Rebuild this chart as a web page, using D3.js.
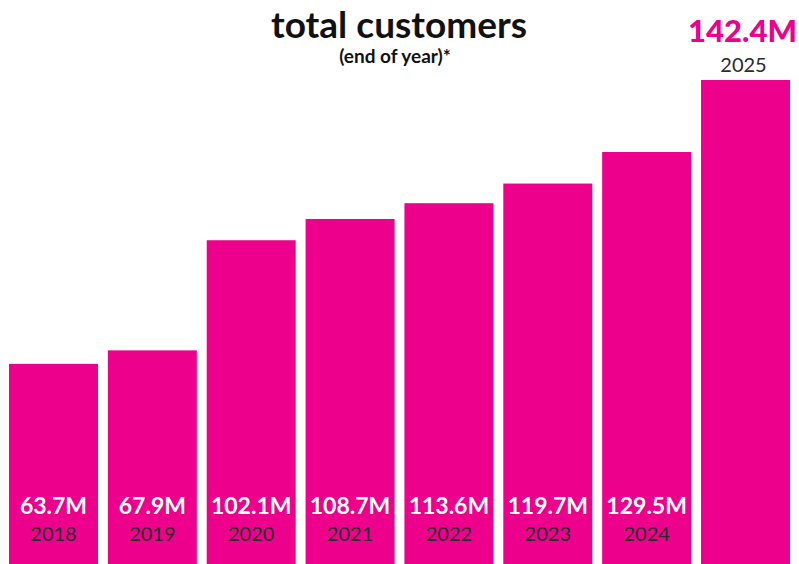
<!DOCTYPE html>
<html>
<head>
<meta charset="utf-8">
<script src="https://cdn.jsdelivr.net/npm/d3@7"></script>
<style>
  body { margin: 0; background: #fff; }
  svg { display: block; }
</style>
</head>
<body>
<div id="chart"></div>
<script>
var years = ["2018", "2019", "2020", "2021", "2022", "2023", "2024", "2025"];
var customers = [63.7, 67.9, 102.1, 108.7, 113.6, 119.7, 129.5, 142.4];
var valueLabels = ["63.7M", "67.9M", "102.1M", "108.7M", "113.6M", "119.7M", "129.5M", "142.4M"];

var width = 799, height = 564;
var magenta = "#ec008c";
var last = years.length - 1;

var svg = d3.select("#chart").append("svg")
    .attr("width", width)
    .attr("height", height);

var x = d3.scaleBand().domain(years).range([9, 790]).paddingInner(0.1).paddingOuter(0);

// the source stretches the final (2025) bar beyond the linear scale of the others
var y = d3.scaleLinear()
    .domain([0, customers[last - 1], customers[last]])
    .range([569, 152, 80]);

var data = years.map((yr, i) => ({ year: yr, value: customers[i], label: valueLabels[i], i: i }));

svg.selectAll("rect.bar").data(data).enter().append("rect")
    .attr("class", "bar")
    .attr("x", (d) => x(d.year))
    .attr("y", (d) => y(d.value))
    .attr("width", x.bandwidth())
    .attr("height", (d) => y(0) - y(d.value))
    .attr("fill", magenta);

var inside = data.filter((d) => d.i < last);
var outside = data.filter((d) => d.i === last);

svg.selectAll("text.val").data(inside).enter().append("text")
    .attr("class", "val")
    .attr("x", (d) => x(d.year) + x.bandwidth() / 2)
    .attr("y", 514)
    .attr("text-anchor", "middle")
    .style("font-family", "Lato, sans-serif")
    .style("font-weight", "700")
    .style("font-size", "23px")
    .attr("fill", "#fff")
    .text((d) => d.label);

svg.selectAll("text.yr").data(inside).enter().append("text")
    .attr("class", "yr")
    .attr("x", (d) => x(d.year) + x.bandwidth() / 2)
    .attr("y", 541)
    .attr("text-anchor", "middle")
    .style("font-family", "Lato, sans-serif")
    .style("font-weight", "400")
    .style("font-size", "20px")
    .attr("fill", "#2a2a2a")
    .text((d) => d.year);

svg.selectAll("text.topval").data(outside).enter().append("text")
    .attr("class", "topval")
    .attr("x", (d) => x(d.year) + x.bandwidth() / 2 - 3)
    .attr("y", 42)
    .attr("text-anchor", "middle")
    .style("font-family", "Lato, sans-serif")
    .style("font-weight", "900")
    .style("font-size", "31px")
    .attr("fill", magenta)
    .text((d) => d.label);

svg.selectAll("text.topyr").data(outside).enter().append("text")
    .attr("class", "topyr")
    .attr("x", (d) => x(d.year) + x.bandwidth() / 2 - 2)
    .attr("y", 72)
    .attr("text-anchor", "middle")
    .style("font-family", "Lato, sans-serif")
    .style("font-weight", "400")
    .style("font-size", "20px")
    .attr("fill", "#2a2a2a")
    .text((d) => d.year);

svg.append("text")
    .attr("x", 399)
    .attr("y", 38)
    .attr("text-anchor", "middle")
    .style("font-family", "Lato, sans-serif")
    .style("font-weight", "700")
    .style("font-size", "37px")
    .attr("fill", "#111")
    .text("total customers");

svg.append("text")
    .attr("x", 395)
    .attr("y", 63)
    .attr("text-anchor", "middle")
    .style("font-family", "Lato, sans-serif")
    .style("font-weight", "700")
    .style("font-size", "19px")
    .attr("fill", "#111")
    .text("(end of year)*");
</script>
</body>
</html>
